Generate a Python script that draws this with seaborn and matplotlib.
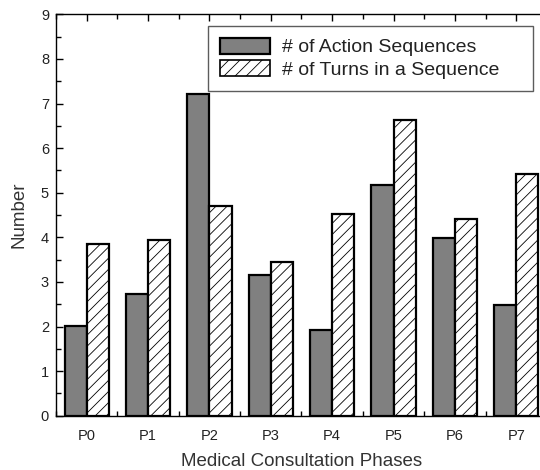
import numpy as np
import pandas as pd
import matplotlib
matplotlib.use('Agg')
import matplotlib.pyplot as plt
import seaborn as sns
from matplotlib.patches import Patch
from matplotlib.ticker import MultipleLocator

# Data ------------------------------------------------------------------------

phases = ['P0', 'P1', 'P2', 'P3', 'P4', 'P5', 'P6', 'P7']
action_sequences = [2.02, 2.72, 7.22, 3.15, 1.93, 5.18, 3.98, 2.48]
turns_in_sequence = [3.85, 3.95, 4.70, 3.45, 4.52, 6.63, 4.42, 5.42]
series_names = ['# of Action Sequences', '# of Turns in a Sequence']

df = pd.DataFrame({
    'phase': phases * 2,
    'value': action_sequences + turns_in_sequence,
    'series': [series_names[0]] * len(phases) + [series_names[1]] * len(phases),
})

# Style ------------------------------------------------------------------------

sns.set_theme(style='ticks')
plt.rcParams['font.family'] = ['Liberation Sans', 'DejaVu Sans']
plt.rcParams['hatch.linewidth'] = 0.6
plt.rcParams['xtick.direction'] = 'in'
plt.rcParams['ytick.direction'] = 'in'

fig = plt.figure(figsize=(5.4, 4.7), dpi=100)
ax = fig.add_axes([56 / 540, 1 - 415.7 / 470, (547 - 56) / 540, (415.7 - 14.3) / 470])

palette = {series_names[0]: '#808080', series_names[1]: 'white'}
sns.barplot(data=df, x='phase', y='value', hue='series', palette=palette,
            width=0.72, edgecolor='black', linewidth=1.6, saturation=1,
            ax=ax, legend=False)

for bar in ax.containers[1]:
    bar.set_hatch('///')

# Axes ---------------------------------------------------------------------------

ax.set_xlim(-0.5, 7.5)
ax.set_ylim(0, 9)
ax.yaxis.set_major_locator(MultipleLocator(1))
ax.yaxis.set_minor_locator(MultipleLocator(0.5))
ax.xaxis.set_minor_locator(MultipleLocator(1, offset=0.5))
ax.tick_params(which='both', top=True, right=True, labelsize=10.5, width=1,
               color='black', labelcolor='#222222')
ax.tick_params(which='major', length=5)
ax.tick_params(which='minor', length=3.5)
ax.tick_params(axis='x', which='major', pad=9.5)
ax.tick_params(axis='y', which='major', pad=5)
for spine in ax.spines.values():
    spine.set_linewidth(1.0)
    spine.set_color('black')

ax.set_xlabel('Medical Consultation Phases', fontsize=13.5, labelpad=7, color='#333333')
ax.set_ylabel('Number', fontsize=13.5, labelpad=9.5, color='#333333')

handles = [
    Patch(facecolor='#808080', edgecolor='black', linewidth=1.6, label=series_names[0]),
    Patch(facecolor='white', edgecolor='black', linewidth=1.2, hatch='///', label=series_names[1]),
]
# legend frame spans x 208..533, y 26..86 px in the reference
leg = ax.legend(handles=handles, loc='upper left', mode='expand',
                bbox_to_anchor=(208 / 540, 1 - 86 / 470, (533 - 208) / 540, 60 / 470),
                bbox_transform=fig.transFigure,
                borderaxespad=0, fontsize=14, frameon=True, fancybox=False,
                handlelength=2.6, handleheight=0.9, handletextpad=0.6,
                labelspacing=0.2, borderpad=0.6)
leg.get_frame().set_edgecolor('#333333')
leg.get_frame().set_linewidth(1.0)
for text in leg.get_texts():
    text.set_color('#222222')

fig.savefig('out.png', dpi=100)
